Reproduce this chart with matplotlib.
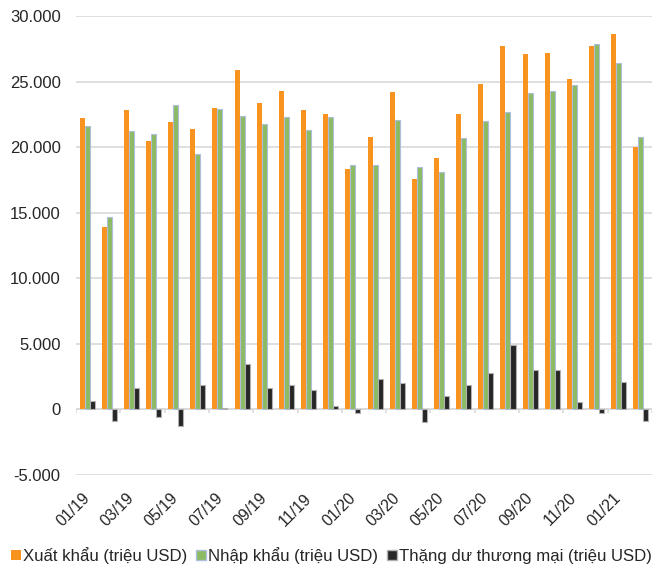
#======================================================================
# PURPOSE : Monthly exports, imports and trade balance, 01/19 - 02/21
#======================================================================
import numpy as np
import matplotlib
matplotlib.use("Agg")
import matplotlib.pyplot as plt
from matplotlib.ticker import FuncFormatter, FixedLocator
from matplotlib.patches import Patch

plt.rcParams['font.family'] = ['Liberation Sans', 'DejaVu Sans']

#--------------------------------------------------------------------------
#                    Data (million USD)
#--------------------------------------------------------------------------
months = ['01/19', '02/19', '03/19', '04/19', '05/19', '06/19', '07/19',
          '08/19', '09/19', '10/19', '11/19', '12/19', '01/20', '02/20',
          '03/20', '04/20', '05/20', '06/20', '07/20', '08/20', '09/20',
          '10/20', '11/20', '12/20', '01/21', '02/21']
exports = [22200, 13900, 22800, 20500, 21900, 21400, 23000, 25900, 23400,
           24300, 22800, 22500, 18300, 20800, 24200, 17600, 19200, 22500,
           24800, 27700, 27100, 27200, 25200, 27700, 28600, 20000]
imports = [21600, 14700, 21200, 21000, 23200, 19500, 22900, 22400, 21800,
           22300, 21300, 22300, 18600, 18600, 22100, 18500, 18100, 20700,
           22000, 22700, 24100, 24300, 24700, 27900, 26400, 20800]
balance = [650, -850, 1650, -550, -1300, 1900, 100, 3450, 1650, 1850,
           1450, 300, -250, 2300, 2000, -950, 1000, 1850, 2800, 4950,
           3000, 3000, 600, -250, 2100, -850]
series_names = ['Xuất khẩu (triệu USD)', 'Nhập khẩu (triệu USD)',
                'Thặng dư thương mại (triệu USD)']

#--------------------------------------------------------------------------
#                    Figure and axes
#--------------------------------------------------------------------------
fig = plt.figure(figsize=(6.63, 5.71), dpi=100)
ax = fig.add_axes([0.1146, 0.1681, 0.8688, 0.8039])

x = np.arange(len(months))
w = 0.226
ax.bar(x - w, exports, w, color='#F7931E', linewidth=0, zorder=3)
ax.bar(x, imports, w, color='#8CBB63', edgecolor='#AFBEDD', linewidth=0.8, zorder=3)
ax.bar(x + w, balance, w, color='#262626', edgecolor='#B0B0B0', linewidth=0.8, zorder=3)

#--------------------------------------------------------------------------
#                    Axis styling
#--------------------------------------------------------------------------
ax.set_xlim(-0.5, len(months) - 0.5)
ax.set_ylim(-5000, 30000)
ax.set_yticks(np.arange(-5000, 30001, 5000))
ax.yaxis.set_major_formatter(FuncFormatter(
    lambda v, p: '{:,.0f}'.format(v).replace(',', '.')))
ax.grid(axis='y', color='#D9D9D9', linewidth=1.2, zorder=0)
for s in ax.spines.values():
    s.set_visible(False)
ax.axhline(0, color='#D9D9D9', linewidth=1.2, zorder=2)

# small tick marks on the zero line between every second pair of months
bounds = np.arange(-0.5, len(months), 2)
ax.vlines(bounds, -300, 0, color='#D9D9D9', linewidth=1.2, zorder=2)

ax.xaxis.set_major_locator(FixedLocator(x[::2]))
ax.set_xticklabels(months[::2], rotation=45, ha='right', va='center',
                   rotation_mode='anchor', fontsize=11.5, color='#262626')
ax.tick_params(axis='x', length=0, pad=15)
ax.tick_params(axis='y', length=0, pad=11, labelsize=12, labelcolor='#262626')

#--------------------------------------------------------------------------
#                    Legend
#--------------------------------------------------------------------------
handles = [Patch(facecolor='#F7931E'),
           Patch(facecolor='#8CBB63', edgecolor='#AFBEDD'),
           Patch(facecolor='#262626', edgecolor='#B0B0B0')]
fig.legend(handles, series_names, loc='center', bbox_to_anchor=(0.5, 0.027),
           ncol=3, frameon=False, fontsize=12.1, handlelength=0.6, handleheight=0.6,
           handletextpad=0.15, columnspacing=0.5, borderpad=0.1,
           labelcolor='#262626')

fig.savefig('out.png', dpi=100)
print("Completed Successfully ... ")
